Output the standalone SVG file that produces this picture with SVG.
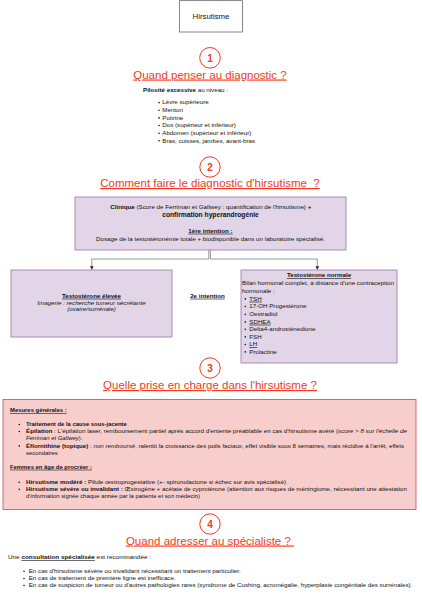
<svg xmlns="http://www.w3.org/2000/svg" width="422" height="600" viewBox="0 0 422 600">
<defs>
<style>
text{font-family:"Liberation Sans",Arial,Helvetica,sans-serif;fill:#111}
.h{font-size:11.5px;fill:#f03a1e;text-anchor:middle;text-decoration:underline}
.num{font-size:10px;font-weight:bold;fill:#f03a1e;text-anchor:middle}
.ring{fill:#fff;stroke:#f03a1e;stroke-width:1}
.b{font-size:6.2px}
.p{font-size:5.9px}
.c{text-anchor:middle}
.bd{font-weight:bold}
.u{text-decoration:underline}
.it{font-style:italic}
.dot{fill:#111}
.conn{fill:none;stroke:#8c8c8c;stroke-width:0.9}
</style>
<marker id="arr" viewBox="0 0 10 10" refX="9" refY="5" markerWidth="4" markerHeight="4" orient="auto">
<path d="M0,0 L10,5 L0,10 z" fill="#222"/>
</marker>
</defs>
<rect width="422" height="600" fill="#fff"/>

<g id="title">
<rect x="179.5" y="0.7" width="63" height="31.3" fill="#fff" stroke="#555" stroke-width="0.7"/>
<text x="211" y="18.8" style="font-size:7.8px" class="c">Hirsutisme</text>
</g>

<g id="section1">
<circle class="ring" cx="210" cy="57.8" r="10.3"/>
<text class="num" x="210" y="61.5">1</text>
<text class="h" x="210" y="78.5">Quand penser au diagnostic ?</text>
<text class="b" x="143" y="92.3"><tspan class="bd">Pilosité excessive</tspan> au niveau :</text>
<circle class="dot" cx="159" cy="102.6" r="0.8"/><text class="b" x="162.3" y="104.4">Lèvre supérieure</text>
<circle class="dot" cx="159" cy="110.2" r="0.8"/><text class="b" x="162.3" y="112">Menton</text>
<circle class="dot" cx="159" cy="117.9" r="0.8"/><text class="b" x="162.3" y="119.7">Poitrine</text>
<circle class="dot" cx="159" cy="125.5" r="0.8"/><text class="b" x="162.3" y="127.3">Dos (supérieur et inférieur)</text>
<circle class="dot" cx="159" cy="133.2" r="0.8"/><text class="b" x="162.3" y="135">Abdomen (supérieur et inférieur)</text>
<circle class="dot" cx="159" cy="140.7" r="0.8"/><text class="b" x="162.3" y="142.5">Bras, cuisses, jambes, avant-bras</text>
</g>

<g id="section2">
<circle class="ring" cx="210" cy="167" r="10.2"/>
<text class="num" x="210" y="170.7">2</text>
<text class="h" x="210" y="187" xml:space="preserve">Comment faire le diagnostic d'hirsutisme  ?</text>
</g>

<g id="clinique">
<rect x="75" y="197" width="271" height="53" fill="#e1d5e7" stroke="#9673a6" stroke-width="0.8"/>
<text class="b c" x="210.8" y="208.7" textLength="201" lengthAdjust="spacingAndGlyphs"><tspan class="bd">Clinique</tspan> (Score de Ferriman et Gallwey : quantification de l'hirsutisme) <tspan class="bd">+</tspan></text>
<text class="c bd" x="210.5" y="217.3" style="font-size:6.7px">confirmation hyperandrogénie</text>
<text class="b c bd u" x="210.5" y="232.7">1ère intention<tspan style="text-decoration:none"> :</tspan></text>
<text class="b c" x="210.5" y="240.7" textLength="229" lengthAdjust="spacingAndGlyphs">Dosage de la testostéronémie totale + biodisponible dans un laboratoire spécialisé.</text>
</g>

<g id="connectors">
<path class="conn" d="M208.8,250 V259 H91.8 V269.5" marker-end="url(#arr)"/>
<path class="conn" d="M210.4,250 V259 H317.3 V269.5" marker-end="url(#arr)"/>
</g>

<g id="testo-elevee">
<rect x="11" y="270" width="161" height="67" fill="#e1d5e7" stroke="#9673a6" stroke-width="0.8"/>
<text class="b c bd u" x="91.5" y="297.7">Testostérone élevée</text>
<text class="b c it" x="91.5" y="304.7">Imagerie : recherche tumeur sécrétante</text>
<text class="b c it" x="91.5" y="311.4">(ovaire/surrénale)</text>
</g>

<g id="deuxieme-intention">
<text class="b c bd u" x="207.5" y="297.7">2e intention</text>
</g>

<g id="testo-normale">
<rect x="241" y="270" width="156" height="93" fill="#e1d5e7" stroke="#9673a6" stroke-width="0.8"/>
<text class="b c bd u" x="319" y="277.2">Testostérone normale</text>
<text class="b" x="242" y="285" textLength="152" lengthAdjust="spacingAndGlyphs">Bilan hormonal complet, à distance d'une contraception</text>
<text class="b" x="242" y="292.7">hormonale :</text>
<circle class="dot" cx="245.3" cy="298.9" r="0.8"/><text class="b u" x="249.3" y="300.7">TSH</text>
<circle class="dot" cx="245.3" cy="306.5" r="0.8"/><text class="b" x="249.3" y="308.3">17-OH Progestérone</text>
<circle class="dot" cx="245.3" cy="314.2" r="0.8"/><text class="b" x="249.3" y="316">Oestradiol</text>
<circle class="dot" cx="245.3" cy="321.9" r="0.8"/><text class="b u" x="249.3" y="323.7">SDHEA</text>
<circle class="dot" cx="245.3" cy="329.2" r="0.8"/><text class="b" x="249.3" y="331">Delta4-androstènedione</text>
<circle class="dot" cx="245.3" cy="336.9" r="0.8"/><text class="b" x="249.3" y="338.7">FSH</text>
<circle class="dot" cx="245.3" cy="344.5" r="0.8"/><text class="b u" x="249.3" y="346.3">LH</text>
<circle class="dot" cx="245.3" cy="351.9" r="0.8"/><text class="b" x="249.3" y="353.7">Prolactine</text>
</g>

<g id="section3">
<circle class="ring" cx="210" cy="368" r="10.2"/>
<text class="num" x="210" y="371.7">3</text>
<text class="h" x="210" y="389">Quelle prise en charge dans l'hirsutisme ?</text>
</g>

<g id="prise-en-charge">
<rect x="3" y="399.5" width="413" height="110" fill="#f8cecc" stroke="#b85450" stroke-width="0.8"/>
<text class="p bd u" x="10" y="412">Mesures générales<tspan style="text-decoration:none"> :</tspan></text>
<circle class="dot" cx="19.3" cy="424.5" r="0.8"/><text class="p bd" x="26" y="426.3">Traitement de la cause sous-jacente</text>
<circle class="dot" cx="19.3" cy="431.5" r="0.8"/><text class="p" x="26" y="433.3" textLength="381" lengthAdjust="spacingAndGlyphs"><tspan class="bd">Épilation</tspan> : L'épilation laser, remboursement partiel après accord d'entente préablable en cas d'hirsutisme avéré (<tspan class="it">score &gt; 8 sur l'échelle de</tspan></text>
<text class="p" x="26" y="440.3"><tspan class="it">Ferriman et Gallwey</tspan>).</text>
<circle class="dot" cx="19.3" cy="445.9" r="0.8"/><text class="p" x="26" y="447.7" textLength="378" lengthAdjust="spacingAndGlyphs"><tspan class="bd">Éflornithine (topique)</tspan> : <tspan class="it">non remboursé</tspan>, ralentit la croissance des poils faciaux, effet visible sous 8 semaines, mais récidive à l'arrêt, effets</text>
<text class="p" x="26" y="455.3">secondaires</text>
<text class="p bd u" x="10" y="468.7">Femmes en âge de procréer<tspan style="text-decoration:none"> :</tspan></text>
<circle class="dot" cx="19.3" cy="482.2" r="0.8"/><text class="p" x="26" y="484" textLength="260" lengthAdjust="spacingAndGlyphs"><tspan class="bd">Hirsutisme modéré :</tspan> Pilule œstroprogestative (+- spironolactone si échec sur avis spécialisé)</text>
<circle class="dot" cx="19.3" cy="489.2" r="0.8"/><text class="p" x="26" y="491" textLength="381" lengthAdjust="spacingAndGlyphs"><tspan class="bd">Hirsutisme sévère ou invalidant :</tspan> Œstrogène + acétate de cyprotérone (attention aux risques de méningiome, nécessitant une attestation</text>
<text class="p" x="26" y="498">d'information signée chaque année par la patiente et son médecin)</text>
</g>

<g id="section4">
<circle class="ring" cx="210" cy="524" r="10.2"/>
<text class="num" x="210" y="527.7">4</text>
<text class="h" x="210" y="544.5" xml:space="preserve">Quand adresser au spécialiste ? </text>
<text class="b" x="8" y="559" textLength="143" lengthAdjust="spacingAndGlyphs">Une <tspan class="bd u">consultation spécialisée</tspan> est recommandée :</text>
<circle class="dot" cx="24" cy="571.2" r="0.8"/><text class="b" x="28.7" y="573" textLength="212" lengthAdjust="spacingAndGlyphs">En cas d'hirsutisme sévère ou invalidant nécessitant un traitement particulier.</text>
<circle class="dot" cx="24" cy="578.5" r="0.8"/><text class="b" x="28.7" y="580.3" textLength="147" lengthAdjust="spacingAndGlyphs">En cas de traitement de première ligne est inefficace.</text>
<circle class="dot" cx="24" cy="585.5" r="0.8"/><text class="b" x="28.7" y="587.3" textLength="382" lengthAdjust="spacingAndGlyphs">En cas de suspicion de tumeur ou d'autres pathologies rares (syndrome de Cushing, acromégalie, hyperplasie congénitale des surrénales)</text>
</g>
</svg>
